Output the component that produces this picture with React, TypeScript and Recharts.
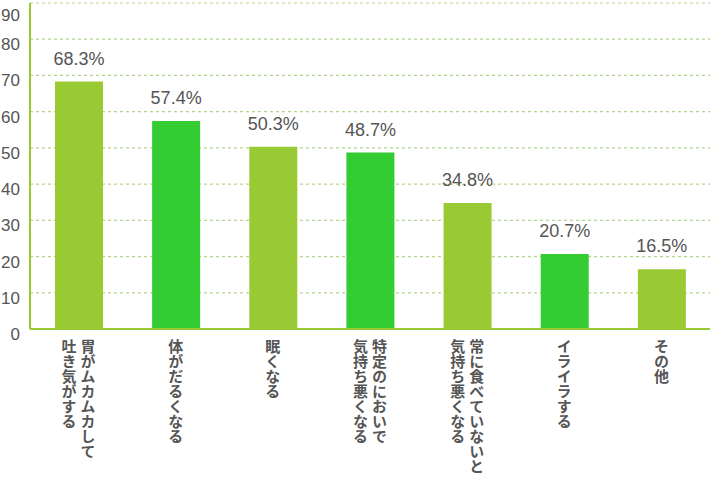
import { BarChart, Bar, XAxis, YAxis, CartesianGrid, Cell, LabelList } from "recharts";

// Categories (line breaks = vertical columns, read right to left)
const CATEGORIES = [
    "胃がムカムカして\n吐き気がする",
    "体がだるくなる",
    "眠くなる",
    "特定のにおいで\n気持ち悪くなる",
    "常に食べていないと\n気持ち悪くなる",
    "イライラする",
    "その他",
];
const VALUES = [68.3, 57.4, 50.3, 48.7, 34.8, 20.7, 16.5];
const Y_TICKS = [0, 10, 20, 30, 40, 50, 60, 70, 80, 90];

const LIGHT = "#99c933";
const BRIGHT = "#33cc33";
const TEXT = "#555555";

const data = CATEGORIES.map((name, i) => ({ name, value: VALUES[i] }));

const VerticalTick = ({ x, y, payload }: any) => {
    const lines: string[] = String(payload.value).split("\n");
    const n = lines.length;
    return (
        <g>
            {lines.map((line, i) => (
                <text
                    key={i}
                    x={x + (n - 1) * 9.5 - i * 19}
                    y={y + 2}
                    fill={TEXT}
                    fontSize={15}
                    fontWeight="bold"
                    fontFamily="'Noto Sans CJK JP', sans-serif"
                    style={{ writingMode: "vertical-rl" as any }}
                >
                    {line}
                </text>
            ))}
        </g>
    );
};

export default function App() {
    return (
        <div style={{ position: "absolute", left: 0, top: 0, background: "#fff" }}>
            <BarChart
                width={710}
                height={478}
                data={data}
                margin={{ top: 3, right: 0, bottom: 0, left: 0 }}
            >
                <CartesianGrid
                    vertical={false}
                    stroke="#b3d68a"
                    strokeDasharray="3 3"
                    strokeWidth={1.2}
                />
                <XAxis
                    dataKey="name"
                    height={149}
                    interval={0}
                    tickLine={false}
                    axisLine={{ stroke: LIGHT, strokeWidth: 2 }}
                    tick={<VerticalTick />}
                />
                <YAxis
                    width={30}
                    domain={[0, 90]}
                    ticks={Y_TICKS}
                    tickLine={false}
                    axisLine={{ stroke: LIGHT, strokeWidth: 2 }}
                    tick={{ fill: TEXT, fontSize: 17, fontFamily: "'Liberation Sans', Arial, sans-serif", dy: 5, textAnchor: "end" }}
                    tickMargin={4}
                />
                <Bar dataKey="value" barSize={48} isAnimationActive={false}>
                    {data.map((_, i) => (
                        <Cell key={i} fill={i % 2 === 0 ? LIGHT : BRIGHT} />
                    ))}
                    <LabelList
                        dataKey="value"
                        position="top"
                        offset={17}
                        formatter={(v: any) => `${v}%`}
                        fill={TEXT}
                        fontSize={18}
                        fontFamily="'Liberation Sans', Arial, sans-serif"
                    />
                </Bar>
            </BarChart>
        </div>
    );
}
